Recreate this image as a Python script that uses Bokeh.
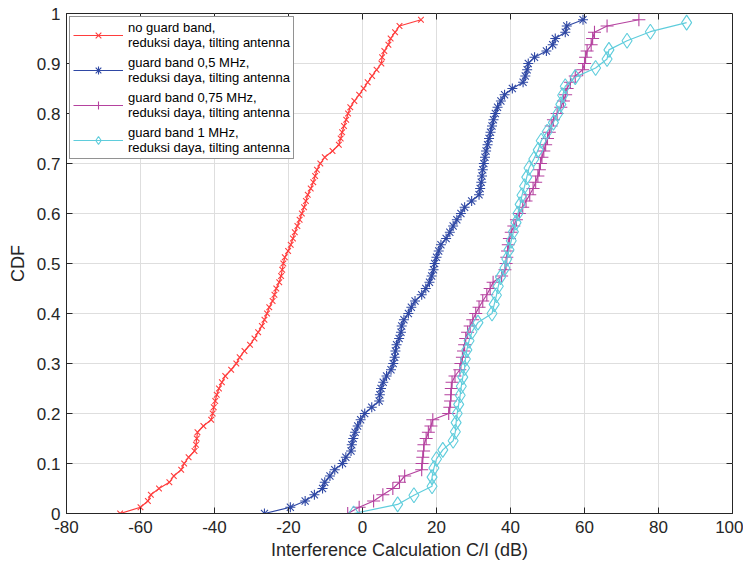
from bokeh.plotting import figure
from bokeh.models import Range1d, FixedTicker, Legend, LegendItem
from bokeh.embed import file_html
from bokeh.resources import INLINE

# ---------------- data ----------------
series_names = [
    "no guard band,\nreduksi daya, tilting antenna",
    "guard band 0,5 MHz,\nreduksi daya, tilting antenna",
    "guard band 0,75 MHz,\nreduksi daya, tilting antenna",
    "guard band 1 MHz,\nreduksi daya, tilting antenna",
]

cdf_80 = [0, 0.0125, 0.025, 0.0375, 0.05, 0.0625, 0.075, 0.0875, 0.1, 0.1125,
          0.125, 0.1375, 0.15, 0.1625, 0.175, 0.1875, 0.2, 0.2125, 0.225, 0.2375,
          0.25, 0.2625, 0.275, 0.2875, 0.3, 0.3125, 0.325, 0.3375, 0.35, 0.3625,
          0.375, 0.3875, 0.4, 0.4125, 0.425, 0.4375, 0.45, 0.4625, 0.475, 0.4875,
          0.5, 0.5125, 0.525, 0.5375, 0.55, 0.5625, 0.575, 0.5875, 0.6, 0.6125,
          0.625, 0.6375, 0.65, 0.6625, 0.675, 0.6875, 0.7, 0.7125, 0.725, 0.7375,
          0.75, 0.7625, 0.775, 0.7875, 0.8, 0.8125, 0.825, 0.8375, 0.85, 0.8625,
          0.875, 0.8875, 0.9, 0.9125, 0.925, 0.9375, 0.95, 0.9625, 0.975, 0.9875]

cdf_55 = [0, 0.0182, 0.0364, 0.0545, 0.0727, 0.0909, 0.1091, 0.1273, 0.1455, 0.1636,
          0.1818, 0.2, 0.2182, 0.2364, 0.2545, 0.2727, 0.2909, 0.3091, 0.3273, 0.3455,
          0.3636, 0.3818, 0.4, 0.4182, 0.4364, 0.4545, 0.4727, 0.4909, 0.5091, 0.5273,
          0.5455, 0.5636, 0.5818, 0.6, 0.6182, 0.6364, 0.6545, 0.6727, 0.6909, 0.7091,
          0.7273, 0.7455, 0.7636, 0.7818, 0.8, 0.8182, 0.8364, 0.8545, 0.8727, 0.8909,
          0.9091, 0.9273, 0.9455, 0.9636, 0.9818]

no_guard_ci = [-65.5, -60, -58, -57.2, -55, -52.2, -51, -49, -48.2, -47,
               -45.4, -45, -44.8, -44.6, -43, -40.9, -40.5, -40.2, -39.8, -39.4,
               -38.8, -38, -37.1, -35.5, -34.1, -33.2, -31.9, -30.4, -29.2, -28.2,
               -27.2, -26.5, -25.8, -25.2, -24.3, -23.8, -23.3, -22.5, -22, -21.7,
               -21.4, -21, -20.1, -19.4, -18.8, -18.3, -17.6, -17, -16.4, -15.8,
               -15.3, -14.8, -14, -13.3, -12.8, -12.3, -11.4, -10.2, -8.1, -6.4,
               -5.9, -5.5, -5, -4.4, -3.9, -3.3, -2.2, -0.9, 0.3, 1.4,
               2.6, 3.8, 5.1, 5.3, 5.9, 7, 7.6, 8.8, 10, 15.8]

gb_05_ci = [-26.5, -19.5, -15.5, -13, -10.8, -10.2, -8.8, -7.5, -5.4, -4.5,
            -3.1, -2.9, -2.5, -2, -1.3, -0.5, 0.6, 2.5, 4.5, 4.7,
            5, 5.6, 6.5, 7.7, 8.3, 8.7, 8.9, 9.2, 9.9, 10.4,
            10.6, 11.2, 12.4, 13.2, 14.2, 16, 17.1, 18.1, 18.7, 19.2,
            19.5, 20, 20.6, 21.2, 22.6, 23.6, 24.5, 25.5, 26.6, 27.6,
            29.5, 31.5, 31.8, 32.1, 32.3, 32.5, 32.8, 33.1, 33.4, 33.8,
            34.2, 34.6, 35, 35.4, 35.9, 36.5, 37.4, 38.4, 40.5, 43.4,
            44, 44.5, 44.8, 46.5, 49.7, 51.4, 52.1, 54.8, 55.2, 59.6]

gb_075_ci = [-4, -0.9, 3, 5.5, 8.2, 10, 11.4, 16, 16.1, 16.3,
             16.5, 16.6, 17.2, 17.8, 18.5, 19, 23.3, 23.6, 23.8, 23.9,
             24, 24.2, 25, 26.3, 26.6, 27, 27.3, 27.6, 27.9, 28.4,
             29.1, 29.8, 30.6, 31.5, 32.5, 33.6, 34.5, 35.3, 37.6, 38.5,
             38.8, 39, 39.2, 39.4, 39.7, 40.2, 40.9, 41.6, 42.4, 43.3,
             44.2, 45.2, 46.1, 46.8, 47.4, 47.8, 48.1, 48.5, 49, 49.5,
             50, 50.5, 51, 51.6, 52.6, 53.6, 54.3, 54.9, 55.3, 56.2,
             57.5, 59.5, 60, 60.3, 60.7, 61.8, 62.2, 62.7, 66.1, 74.7]

gb_1_ci = [-2.4, 9.5, 13.9, 18.8, 18.8, 19.3, 20, 21.7, 24.5, 25.1,
           25.3, 25.6, 26, 26.4, 26.7, 27.1, 27.6, 27.8, 28.2, 28.8,
           29.6, 31.2, 35, 35.6, 36.2, 36.7, 37.3, 38.5, 39, 39.6,
           40.2, 40.8, 41.5, 42, 42.6, 43.1, 43.8, 44.4, 45, 46.3,
           47.5, 48.3, 49.9, 51.6, 52.8, 53.6, 54.1, 54.8, 57.5, 63,
           66.1, 66.6, 71.5, 77.8, 87.6]

x_ticks = [-80, -60, -40, -20, 0, 20, 40, 60, 80, 100]
x_tick_labels = ["-80", "-60", "-40", "-20", "0", "20", "40", "60", "80", "100"]
y_ticks = [0, 0.1, 0.2, 0.3, 0.4, 0.5, 0.6, 0.7, 0.8, 0.9, 1]
y_tick_labels = ["0", "0.1", "0.2", "0.3", "0.4", "0.5", "0.6", "0.7", "0.8", "0.9", "1"]

# ---------------- styles ----------------
FONT = "Liberation Sans"
AX = "#262626"
W, H = 743, 569
BL, BR, BT, BB = 66, 11, 13, 56
TICK_PX = 6
styles = [
    dict(color="#FF3D3D", marker="x", size=8),
    dict(color="#2F48A4", marker="asterisk", size=10),
    dict(color="#B5429F", marker="cross", size=13),
    dict(color="#5FCDDC", marker="diamond", size=15),
]
data = [(no_guard_ci, cdf_80), (gb_05_ci, cdf_80), (gb_075_ci, cdf_80), (gb_1_ci, cdf_55)]

x0, x1 = x_ticks[0], x_ticks[-1]
y0, y1 = y_ticks[0], y_ticks[-1]
p = figure(width=W, height=H, x_range=Range1d(x0, x1), y_range=Range1d(y0, y1),
           output_backend="svg", toolbar_location=None,
           min_border_left=BL, min_border_right=BR, min_border_top=BT, min_border_bottom=BB)
p.background_fill_color = "white"
p.border_fill_color = "white"
p.outline_line_color = AX
p.outline_line_width = 1

# axes
p.xaxis.ticker = FixedTicker(ticks=x_ticks)
p.xaxis.major_label_overrides = dict(zip(x_ticks, x_tick_labels))
p.yaxis.ticker = FixedTicker(ticks=y_ticks)
p.yaxis.major_label_overrides = dict(zip(y_ticks, y_tick_labels))
for ax in (p.xaxis[0], p.yaxis[0]):
    ax.major_tick_in = TICK_PX
    ax.major_tick_out = 0
    ax.minor_tick_line_color = None
    ax.axis_line_color = AX
    ax.major_tick_line_color = AX
    ax.major_label_text_font = FONT
    ax.major_label_text_font_size = "17px"
    ax.major_label_text_color = AX
    ax.axis_label_text_font = FONT
    ax.axis_label_text_font_size = "18px"
    ax.axis_label_text_font_style = "normal"
    ax.axis_label_text_color = AX
p.xaxis.axis_label = "Interference Calculation C/I (dB)"
p.yaxis.axis_label = "CDF"
p.xaxis.major_label_standoff = 7
p.xaxis.axis_label_standoff = 4
p.yaxis.major_label_standoff = 6
p.yaxis.axis_label_standoff = 6

p.xgrid.grid_line_color = "#dedede"
p.ygrid.grid_line_color = "#dedede"
p.xgrid.grid_line_width = 1
p.ygrid.grid_line_width = 1

# box ticks on top and right edges (MATLAB "box on"), lengths converted from pixels
frame_w = W - BL - BR
frame_h = H - BT - BB
dx = TICK_PX * (x1 - x0) / frame_w
dy = TICK_PX * (y1 - y0) / frame_h
p.segment(x0=x_ticks, y0=[y1] * len(x_ticks), x1=x_ticks, y1=[y1 - dy] * len(x_ticks),
          line_color=AX, line_width=1)
p.segment(x0=[x1] * len(y_ticks), y0=y_ticks, x1=[x1 - dx] * len(y_ticks), y1=y_ticks,
          line_color=AX, line_width=1)

items = []
for name, (xs, ys), st in zip(series_names, data, styles):
    lr = p.line(xs, ys, line_color=st["color"], line_width=1.2)
    sr = p.scatter(xs, ys, marker=st["marker"], size=st["size"], line_color=st["color"],
                   fill_color=None, line_width=1.1)
    items.append(LegendItem(label=name, renderers=[lr, sr]))

legend = Legend(items=items, location="top_left", margin=3, padding=3, spacing=5,
                glyph_width=50, glyph_height=20, label_standoff=5,
                label_text_font=FONT, label_text_font_size="13px",
                label_text_color="#000000", label_text_line_height=1.35,
                border_line_color=AX, border_line_width=1,
                background_fill_color="white", background_fill_alpha=1)
p.add_layout(legend)

open("out.html", "w").write(file_html(p, INLINE))
